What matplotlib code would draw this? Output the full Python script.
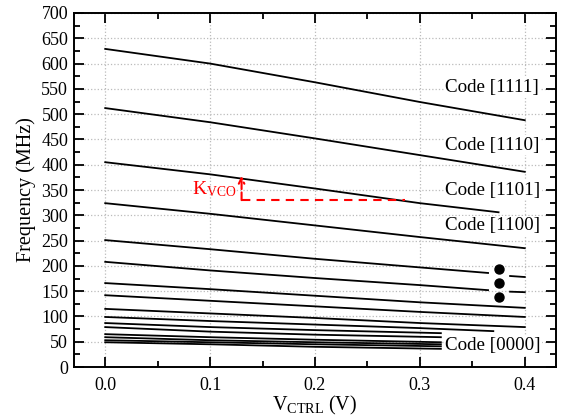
import numpy as np
import matplotlib
matplotlib.use("Agg")
import matplotlib.pyplot as plt

# === DATA ===
# 16 VCO tuning curves, from code [1111] down to code [0000]
curve_x = [
    [0.0, 0.1, 0.2, 0.3, 0.4],                          # 1111
    [0.0, 0.1, 0.2, 0.3, 0.4],                          # 1110
    [0.0, 0.1, 0.2, 0.3, 0.375],                        # 1101
    [0.0, 0.1, 0.2, 0.3, 0.4],                          # 1100
    [0.0, 0.1, 0.2, 0.3, 0.365, np.nan, 0.386, 0.4],    # broken by the dots
    [0.0, 0.1, 0.2, 0.3, 0.365, np.nan, 0.386, 0.4],
    [0.0, 0.1, 0.2, 0.3, 0.4],
    [0.0, 0.1, 0.2, 0.3, 0.4],
    [0.0, 0.1, 0.2, 0.3, 0.4],
    [0.0, 0.1, 0.2, 0.3, 0.37],
    [0.0, 0.1, 0.2, 0.32],
    [0.0, 0.1, 0.2, 0.32],
    [0.0, 0.1, 0.2, 0.32],
    [0.0, 0.1, 0.2, 0.32],
    [0.0, 0.1, 0.2, 0.32],
    [0.0, 0.1, 0.2, 0.32],                              # 0000
]
curve_f = [
    [629, 600, 563, 524, 488],
    [512, 484, 452, 419, 386],
    [405, 381, 353, 324, 306],
    [324, 303, 280, 257, 235],
    [251, 233, 214, 197, 186, np.nan, 180, 178],
    [208, 191, 176, 162, 152, np.nan, 149, 148],
    [166, 154, 141, 128, 117],
    [142, 131, 120, 109, 99],
    [115, 106, 97, 87, 79],
    [99, 91, 84, 77, 71],
    [87, 79, 73, 67],
    [79, 70, 64, 59],
    [65, 59, 54, 49],
    [59, 53, 49, 45],
    [53, 49, 45, 41],
    [49, 45, 40, 36],
]

code_labels = ["Code [1111]", "Code [1110]", "Code [1101]", "Code [1100]", "Code [0000]"]
label_x = [0.324, 0.324, 0.324, 0.324, 0.324]
label_f = [552, 439, 350, 279, 42]

dots_x = [0.375, 0.375, 0.375]
dots_f = [194, 166, 138]

# K_VCO marker
kvco_x = 0.13
kvco_x_end = 0.286
kvco_low = 330
kvco_high = 378

# === STYLE ===
plt.rcParams["font.family"] = ["Liberation Serif", "DejaVu Serif"]
plt.rcParams["mathtext.default"] = "regular"

fig = plt.figure(figsize=(5.63, 4.19), dpi=100)
ax = fig.add_axes([0.131, 0.124, 0.857, 0.845])

# === PLOT ===
for xs, fs in zip(curve_x, curve_f):
    ax.plot(xs, fs, color="black", lw=1.3)

ax.plot(dots_x, dots_f, "o", color="black", ms=6.5)

for txt, x, f in zip(code_labels, label_x, label_f):
    ax.text(x, f, txt, fontsize=13.7, va="center", ha="left",
            bbox=dict(facecolor="white", edgecolor="none", pad=1))

# K_VCO dashed step
ax.plot([kvco_x, kvco_x_end], [kvco_low, kvco_low], color="red", ls="--", lw=1.5,
        dashes=(4, 3))
ax.annotate("", xy=(kvco_x, kvco_high), xytext=(kvco_x, kvco_low),
            arrowprops=dict(arrowstyle="->", color="red", lw=1.5, ls="--",
                            shrinkA=0, shrinkB=0))
ax.text(kvco_x - 0.005, 352, "K$_{VCO}$", color="red", fontsize=14,
        ha="right", va="center")

# === AXES ===
ax.set_xlim(-0.03, 0.43)
ax.set_ylim(0, 700)
ax.set_xticks([0.0, 0.1, 0.2, 0.3, 0.4])
ax.set_xticks(np.arange(0.05, 0.4, 0.1), minor=True)
ax.set_yticks(np.arange(0, 701, 50))
ax.set_yticks(np.arange(25, 700, 50), minor=True)
ax.xaxis.set_major_formatter(matplotlib.ticker.FormatStrFormatter("%.1f"))

ax.tick_params(which="both", direction="in", top=True, right=True, width=1.3,
               labelsize=13)
ax.tick_params(which="major", length=7)
ax.tick_params(which="minor", length=4)
ax.tick_params(axis="x", which="major", pad=7)
ax.tick_params(axis="y", which="major", pad=4)
for s in ax.spines.values():
    s.set_linewidth(1.4)

ax.grid(True, which="major", ls=":", color="#bbbbbb", lw=0.9)
ax.set_axisbelow(True)

ax.set_xlabel("V$_{CTRL}$ (V)", fontsize=14.5, labelpad=0)
ax.set_ylabel("Frequency (MHz)", fontsize=14.5, labelpad=4)

fig.savefig("out.png", dpi=100)
